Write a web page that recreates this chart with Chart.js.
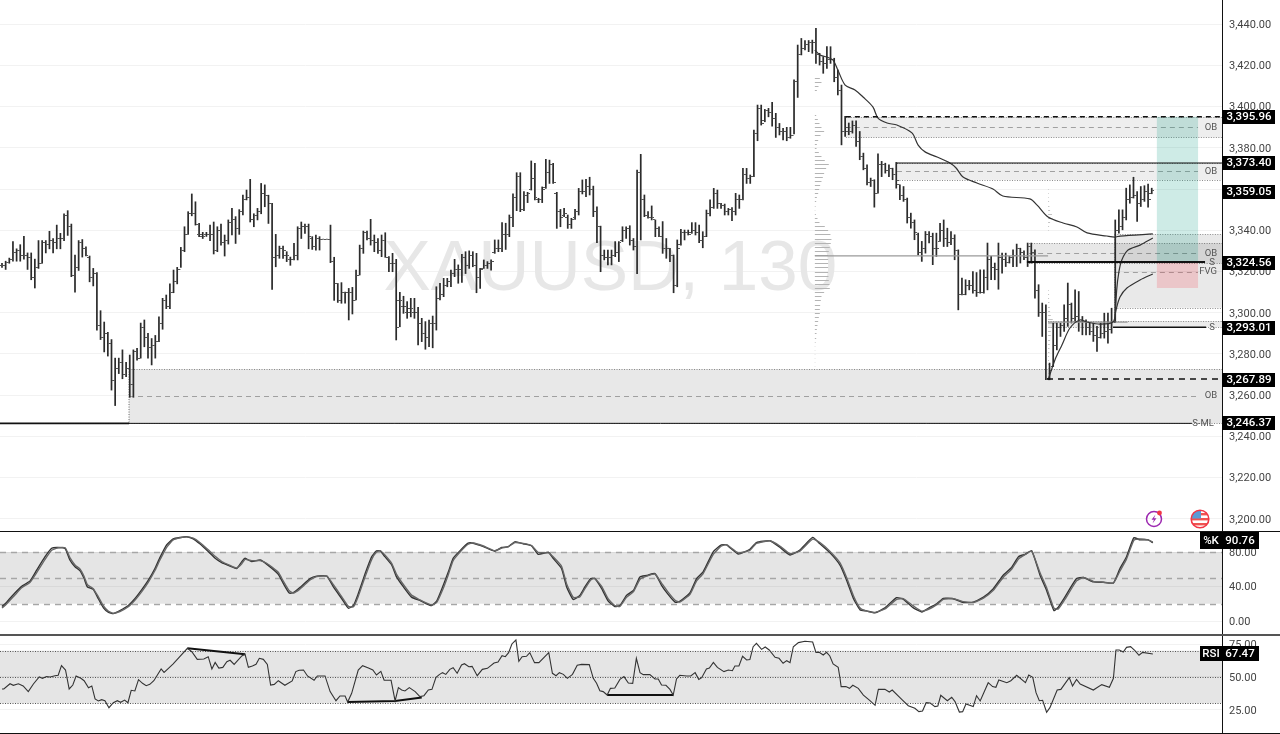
<!DOCTYPE html>
<html><head><meta charset="utf-8">
<script src="https://cdn.jsdelivr.net/npm/chart.js@4"></script>
<style>
html,body{margin:0;padding:0;background:#fff;width:1280px;height:734px;overflow:hidden}
canvas{position:absolute;left:0}
.sep{position:absolute;left:0;width:1280px}
</style></head><body>
<canvas id="price" width="1280" height="531" style="top:0"></canvas>
<canvas id="stoch" width="1280" height="102" style="top:532px"></canvas>
<canvas id="rsi" width="1280" height="97" style="top:636px"></canvas>
<div class="sep" style="top:531px;height:1px;background:#111"></div>
<div class="sep" style="top:634px;height:2px;background:#555"></div>
<div class="sep" style="top:733px;height:1px;background:#111"></div>
<script>
const highs=[3324,3325,3326.5,3334.5,3331,3333,3337,3329,3329,3326,3335,3335,3335,3339.5,3336,3342.5,3338.5,3348,3349.5,3343,3328,3335,3335.5,3332,3327.5,3321.5,3319.5,3301,3295.5,3290.5,3287,3278,3278,3282,3276,3279.5,3282,3282.7,3295,3296.5,3290,3287.5,3289,3298,3307,3308.6,3314,3320.7,3322,3331.7,3341.7,3349,3357.6,3353.8,3343.3,3339,3339,3342.5,3344,3341.7,3343,3337.7,3345,3350.6,3346.6,3350,3357,3359.5,3364.7,3348,3350.6,3362.7,3362,3357,3353,3338,3332.3,3332.3,3329.6,3327,3333.6,3341.7,3344,3343,3343,3336.9,3337.7,3336.9,3335.7,3335.7,3342.5,3326.9,3314.2,3314.6,3310,3311.8,3312.3,3320.7,3332.8,3339.6,3339.6,3345.3,3337.7,3336,3337.7,3338.8,3327.2,3328.8,3325.9,3309.9,3308,3305.4,3307,3307,3302.6,
3297.3,3295.7,3296.5,3298.4,3312.6,3314.3,3316.7,3316.7,3320.7,3325.9,3323.2,3328.3,3329.6,3330,3329.6,3328.8,3321.5,3325.6,3324.8,3325.6,3335.3,3335.3,3343.7,3343.4,3347.4,3357.6,3367.9,3367.9,3358.7,3358.4,3373.6,3372.4,3355.5,3361,3374.4,3374,3372.4,3358.4,3350.1,3350.6,3347.4,3345.8,3350.1,3360.3,3364.4,3364.7,3365.7,3361.4,3351.4,3342,3330.4,3330.4,3330.4,3334.5,3334.5,3341.7,3341.7,3342.2,3336,3369.2,3376.8,3357.1,3349,3351.8,3345,3341.7,3344.2,3336,3331.2,3328,3335.3,3340.4,3340.1,3340.1,3343.7,3343.7,3342.5,3339.3,3349.8,3354.7,3360.3,3359.5,3353,3352.7,3350.6,3351,3357.9,3357.1,3370,3370,3366.8,3388.6,3400.7,3400.7,3398.6,3399.1,3402,3396.7,3391.8,3389.4,3389.9,3389.9,3412.9,3429.8,3433,3432,3432,3432.2,3437.9,3425.8,3424.2,3429,3429,3423.4,3417.7,
3410.4,3395.2,3392,3393,3393,3387.9,3377.4,3371.7,3365.3,3364.5,3377,3373.4,3372.5,3371.7,3370.1,3372.9,3362,3361.2,3355.6,3348.3,3345,3338.6,3334.6,3339.4,3339.4,3338.6,3338.6,3343.4,3345,3341,3339.4,3337.8,3330.5,3316.8,3316,3315.7,3320,3319.5,3320.8,3320.8,3333.8,3327.3,3324.1,3333.8,3328.9,3328.9,3327.3,3330.5,3333.3,3331.3,3330,3333.8,3333.8,3330.5,3313.6,3304.7,3303.9,3275.6,3295,3295,3295,3303.9,3314.4,3304.7,3311.1,3310.3,3298.2,3296.6,3295,3295,3293.4,3295,3299.8,3299.8,3302.2,3345,3349.9,3349.9,3360.4,3362,3365.7,3358.8,3361.2,3361.6,3362.4,3360.4];
const lows=[3322,3321,3324,3325,3325,3325,3326,3321,3316,3312,3321.5,3324,3329,3331,3329,3331,3331,3335,3337.5,3317.5,3310,3320.5,3327,3327.5,3315,3313,3291.5,3287,3281,3279,3262.5,3255,3270.5,3268,3269,3259,3259,3277,3278,3283.5,3278,3274.7,3278,3286,3292,3302,3302,3309.7,3314,3322,3329.6,3338,3347,3342.5,3336.9,3336,3337,3335,3328.5,3329.6,3332.8,3327.5,3333.3,3337.7,3333.6,3338,3347.4,3354.7,3344,3341.7,3345,3348,3351.4,3343.3,3311.3,3322.3,3326.4,3326.4,3324.8,3323,3325.6,3325.6,3336,3338.5,3331,3330.7,3330.4,3330.4,3335.7,3335.7,3324.3,3306,3305,3304.6,3304.6,3296.5,3299.4,3306.2,3318.3,3328.8,3335.3,3332.8,3329.6,3328.8,3327.2,3326.9,3319.9,3319.9,3286.8,3293.2,3299.7,3297.3,3298,3297.3,3284.4,
3286,3282.3,3283.5,3283,3291.6,3306.2,3307.8,3312.6,3312.6,3317.5,3314.3,3314.7,3319,3321.5,3322.3,3309.7,3311.8,3321.5,3321.5,3320.7,3328.8,3329.6,3329.6,3330.7,3336.9,3341.7,3349.5,3349,3349.5,3353.4,3359.5,3354.7,3353.4,3353.4,3360.3,3362.7,3362.7,3340.9,3341.7,3346.6,3340.9,3340.9,3345.3,3347.4,3357.6,3356.3,3357.1,3346.6,3334,3319.9,3325.6,3323.2,3323.2,3327.2,3324.8,3334.5,3336,3332.8,3330.4,3319,3335.3,3346.6,3345.8,3345,3336.9,3336.9,3328.8,3326.4,3324.8,3309.7,3312.6,3332.8,3335.3,3337.7,3338.5,3337.7,3334,3331.5,3336.9,3346.9,3350.6,3350.6,3350.6,3347.4,3347.4,3344.6,3347.4,3350.6,3354.7,3362.7,3362.7,3366,3383.4,3391,3392.6,3395,3390.5,3385,3386.2,3383.8,3383.4,3384.6,3386.7,3404.4,3425,3427.4,3426.6,3425.8,3420.9,3420.1,3416.1,3418.5,3420.9,3412,3405.6,
3381.4,3385.5,3386.3,3387.1,3380.6,3374.2,3369.3,3362,3361.2,3351.2,3358,3366,3367.7,3366,3364.5,3360.4,3354.8,3354,3343.5,3341,3335.4,3328.1,3324.9,3328.9,3333.8,3323.3,3327.3,3334.6,3332.1,3332.1,3333,3325.7,3301.4,3308.7,3308.7,3311.1,3309.5,3307.9,3309.5,3309.5,3311.1,3316,3316,3311.4,3319.2,3322.4,3324.1,3322.4,3322.4,3324.1,3325.7,3322.4,3324.1,3307.1,3298.2,3288.5,3267.5,3267.5,3273.9,3282,3288.5,3291,3293.4,3295,3295.8,3291,3289.3,3289.3,3289.3,3286.1,3281.2,3287.7,3287.7,3285.3,3290.1,3295.8,3338.6,3340.2,3345,3353.1,3355.6,3344.3,3351.5,3354,3351.2,3357.7];
const closes=[3323,3324.5,3326,3329,3330,3328,3328,3327,3317,3322,3324,3334,3333,3335,3334,3336,3336,3347,3342,3318,3322,3334,3331,3328,3317,3319,3294,3288,3290,3285,3267,3273,3276,3270,3273,3265,3281,3278,3293,3288,3283,3284,3286,3295,3306,3303,3310,3315,3321,3330,3338,3348,3348,3343,3338,3337,3338,3338,3330,3340,3334,3335,3344,3345,3341,3349,3355,3356,3345,3347,3349,3358,3357,3353,3327,3328,3331,3330,3328,3326,3328,3341,3342,3342,3337,3332,3336,3335.7,3335.7,3335.7,3325,3314,3306,3310,3310,3310,3306,3318,3331,3339,3336,3335,3334,3330,3335,3327,3324,3324,3293,3306,3303,3300,3302,3300,3295,
3290,3288,3295,3295,3307,3309,3313,3315,3319,3321,3321,3327,3323,3328,3323,3317,3321,3323,3324,3325,3331,3331,3338,3338,3346,3356,3366,3350,3357,3358,3365,3356,3355,3360,3368,3372,3363,3349,3346,3348,3343,3345,3349,3359,3359,3361,3360,3349,3342,3328,3327,3327,3328,3329,3334,3340,3341,3335,3332,3368,3355,3347,3346,3346,3341,3337,3331,3331,3328,3313,3331,3339,3339,3338,3340,3339,3335,3337,3348,3351,3358,3353,3352,3349,3350,3349,3355,3355,3367,3365,3366,3387,3399,3392,3398,3397,3394,3390,3388,3388,3385,3386,3412,3425,3428,3430,3431,3431,3425,3422,3421,3423,3423,3414,3408,
3388,3390,3388,3391,3383,3376,3370,3363,3364,3358,3372,3372,3369,3370,3367,3364,3357,3355,3346,3344,3339,3329,3331,3338,3337,3331,3331,3340,3336,3334,3336,3330,3309,3309,3313,3313,3311,3310,3310,3317,3326,3322,3321,3327,3326,3324.5,3327,3328,3331,3329,3327,3332,3329,3311,3300,3300,3268,3272,3284,3293,3294,3297,3304,3297,3298,3296,3296,3293,3291,3289,3288,3290,3291,3292,3296,3340,3342,3346,3355,3356,3357,3353,3355,3359,3355,3359.05];
const opens=[3323,3323,3324.5,3326,3329,3330,3328,3328,3327,3317,3322,3324,3334,3333,3335,3334,3336,3336,3347,3342,3318,3322,3334,3331,3327,3317,3319,3294,3288,3290,3285,3267,3273,3276,3270,3273,3265,3281,3278,3293,3288,3283,3284,3286,3295,3306,3303,3310,3315,3321,3330,3338,3348,3348,3338,3337,3338,3338,3338,3330,3340,3334,3335,3344,3345,3341,3349,3355,3356,3345,3347,3349,3358,3357,3353,3327,3328,3331,3328,3326,3326,3328,3341,3342,3342,3336,3332,3336,3335.7,3335.7,3335.7,3325,3314,3306,3310,3310,3310,3306,3318,3331,3339,3336,3335,3334,3330,3335,3327,3324,3324,3306,3303,3300,3302,3300,3300,
3295,3290,3288,3295,3295,3307,3309,3313,3315,3319,3321,3321,3327,3323,3328,3323,3317,3321.5,3323,3324,3329,3331,3331,3338,3338,3346,3356,3366,3350,3357,3360,3365,3355,3355,3360.5,3368,3372,3358,3349,3347,3346,3343,3346,3349,3359,3359,3361,3360,3349,3342,3328,3327,3327,3328,3329,3335,3340,3341,3335,3332,3368,3355,3347,3346,3345,3341,3337,3331,3331,3328,3313,3333,3339,3339,3339,3340,3339,3335,3337,3348,3351,3358,3353,3352,3349,3350,3349,3355,3355,3367,3365,3366,3387,3399,3393,3398,3397,3394,3390,3388,3388,3385,3386,3412,3425,3428,3430,3431,3431,3425,3422,3421,3423,3423,3414,
3408,3388,3388,3388,3391,3383,3376,3370,3363,3364,3358,3372,3372,3369,3370,3367,3362,3357,3355,3346,3344,3338,3329,3331,3338,3337,3331,3334.6,3340,3336,3334,3336,3330,3309,3309,3313,3313,3311,3310,3310,3317,3326,3322,3321,3327,3326,3324.5,3327,3328,3331,3329,3327,3332,3329,3311,3300,3300,3268,3274,3284,3293,3294,3297,3304,3297,3298,3296,3296,3293,3291,3289,3288,3290,3291,3292,3296,3340,3342,3346,3355,3356,3357,3353,3355,3359,3358];

const priceTicks=[3200,3220,3240,3260,3280,3300,3320,3340,3360,3380,3400,3420,3440];
const stochTicks=[0,40,80];
const rsiTicks=[25,50,75];

const vwapAIdx=[222.7,224.1,226,227.7,229,231,233.7,235.9,238.6,240,242.5,245.2,249.3,251,252.9,256.2,259.7,261.4,263.3,267.1,271.5,274.2,281.6,283.6,286.6,290.7,294.5,297.3,302.7,304.9,306.3,315.3];
const vwapAVal=[3427.4,3425,3424,3422.5,3417.7,3410.4,3408,3404.6,3399.8,3394.4,3392,3391,3387.2,3381.3,3378,3375.5,3372.6,3370.2,3365.8,3362.9,3360,3356.6,3355.2,3352.2,3346.4,3343.5,3341.6,3338.7,3337.2,3336.7,3337.2,3338.2];
const vwapBIdx=[286.6,287.7,288.8,290.4,292.6,295.3,297.3,300.8,304.4,305.2,306.3,308.2,311.8,315.3];
const vwapBVal=[3267.4,3273.2,3278.5,3284.4,3292.6,3296.5,3295.5,3294.5,3295.5,3301.3,3307.6,3312,3315.9,3318.8];
const vwapCIdx=[304.9,305.4,306,306.8,308.5,311.8,315.3];
const vwapCVal=[3295,3311,3319.8,3325.6,3330.4,3332.8,3336.2];

const vp1Prices=[3414,3412,3410,3408,3396,3394,3392,3390,3388,3386,3384,3382,3380,3378,3376,3374,3372,3370,3368,3366,3364,3362,3360,3358,3356,3354,3352,3350,3348,3346,3344,3342,3340,3338,3336,3334,3332,3330,3328,3326,3324,3322,3320,3318,3316,3314,3312,3310,3308,3306,3304,3302,3300,3298,3296,3294,3292,3290,3288,3286,3284,3282,3280,3278,3276,3274];
const vp1Sizes=[15,20,11,6,4,9,14,20,28,17,10,6,5,12,20,30,42,34,28,24,20,16,13,10,6,4,2,1,3,8,14,30,40,47,50,48,45,42,40,40,40,40,40,41,42,44,45,28,20,18,16,15,15,12,10,8,6,5,4,2,1,1,1,1,1,1];
const vp2Prices=[3360,3358,3356,3354,3352,3350,3348,3346,3344,3342,3340];
const vp2Sizes=[2,2,2,3,4,6,12,14,6,3,2];
const vp3Prices=[3311,3309,3307,3305,3303,3301,3299,3297,3295,3293,3291,3289,3287,3285,3283,3281,3279,3277,3275,3273,3271,3269];
const vp3Sizes=[2,3,3,4,5,6,8,14,25,10,8,8,6,5,4,4,3,3,3,2,2,2];

const stochIdx=[0,1.3,3.6,5.4,7.7,9.5,11.8,13.6,15.4,17.3,18.6,20,21.4,22.5,23.4,25,26.4,27.8,29.1,30.5,32.3,34.6,36.4,38.3,40.1,41.9,43.3,45.1,46.9,48.8,50.6,52.4,54.2,56.5,58.4,60.2,62.5,64.3,65.7,66.6,68.4,70.7,72.5,75.7,77.1,78.7,79.8,81.6,84.4,86.2,89,90.8,93.1,94.9,96.3,97.6,99.5,101.3,102.6,103.6,104.9,106.8,108.1,110,112.2,114.5,115.9,117.7,119.1,120.9,122.3,123.6,125.5,127.7,129.1,131.9,135,136.9,138.7,140.5,142.8,145.1,146.9,149.7,151,153.3,154.7,156.5,158.3,159.7,161.3,162.4,164.3,166.1,167.9,169.3,171.1,173,174.8,176.6,178.9,180.7,182.5,184.4,185.7,188.5,190.3,192.1,194.9,197.1,198.5,201.7,204.9,206.7,210.4,213.1,215.9,218.6,222.1,224.1,226.8,229.6,231.4,233.3,235.1,236.9,239.2,241.9,245.1,246.9,249.7,252,254.3,256.1,257.9,260.6,263.4,266.1,268.9,271.6,274.3,276.6,278.5,280.3,282.1,284.4,286.2,288.2,289.4,291.2,294.4,296.3,299,301.7,304.5,306.3,308.1,310.1,311.8,314,315.3];
const stochK=[16.8,21.9,32.8,40.2,46.5,59,74.6,84.4,85.2,84,70.7,62.9,58.2,49.2,39.5,36.7,25.8,15.2,10.2,8.6,12.1,18,25.8,36.3,47.3,60.9,73.8,88.3,95.3,96.9,97.7,95.3,89.5,80.5,72.7,67.6,63.7,60.9,68.8,72.7,68.8,70.7,66,54.3,43.4,32.4,32.8,38.7,49.2,52,52,39.5,25.8,14.8,18,31.6,55,74.6,81.3,81.3,74.6,64.8,51.2,39.5,27.7,23.8,20.7,18,23,41.4,57,72.7,81.6,90.2,90.2,86.3,80.9,85.2,86.3,91.8,89.5,87.1,77.3,79.7,72.7,60.9,39.5,25,29.7,39.5,49.2,49.2,37.5,23,16.8,18,29.7,35.5,51.2,52.7,55,41.4,30.9,21.9,22.7,32.8,49.2,57,80.5,88.3,88.3,77.7,83.2,91,93,85.5,76.6,82.4,96.9,89.5,79.3,64.8,47.3,25.8,12.9,11.7,9.4,15.2,27,25.4,15.2,10.5,16,19.9,26.2,25.8,21.5,21.9,27.7,37.5,53.1,62.1,74.6,77.3,81.6,53.1,35.5,12.1,16,27.7,49.2,50.4,45.3,44.9,44.1,60.9,74.6,96.5,94.1,94.1,90.76];
const stochD=[15,20,30.5,38.5,45,56,71.5,82,85,85,73.5,65,60,51.5,42,37.5,28,17.5,11.5,9,11,16.5,24,34,45,58.5,71,85.5,94,96.5,97.5,96,91,82.5,75,69,64.5,61.5,66.5,71.5,70,70,67,56.5,46,35,32.5,37,47.5,51.5,52,42,28,17,16.5,28.5,51.5,71.5,80,81.5,76.5,66.5,54,42,30,24.5,21.5,18.5,21.5,38,54,70,80,89,90.5,87,81.5,84.5,86,91,90,87.5,79.5,79,74.5,63.5,43,27.5,28,37.5,47.5,49.5,40,25.5,18,17,27.5,34,48.5,52,54.5,44,33.5,24,22,31,46.5,55,77.5,87,88.5,79,82,90,93,87,78,81,95,91,81,67.5,50.5,29,15,11.5,10,14,25,26,17.5,11.5,14.5,19,25,26,22.5,21.5,26.5,35.5,50.5,60,72,77,81,56,38.5,15,14,25,46.5,50.5,46,45,44,58,72,93.5,95,94,91.6];

const rsiIdx=[0,0.5,2.2,3.1,4.5,5.8,7.2,8.6,10.2,11.1,12.2,13.2,14.5,15.4,16.3,17.4,18.4,19.4,20.3,21.6,22.5,23.7,24.6,25.5,26.4,27.3,28.2,29.3,30.5,31.6,32.5,33.6,34.5,35.4,36.4,37.4,38.5,39.5,40.5,41.6,43.6,44.4,45.6,46.9,50.8,52,53.5,55.3,56.5,57.5,58.4,59.4,60.5,61.6,62.5,63.6,65.7,66.6,67.5,68.6,69.6,70.5,71.6,72.7,73.6,74.6,75.7,77.5,79.5,80.5,81.4,82.6,83.7,85.5,86.4,88.5,89.9,91.5,92.6,94,94.7,95.8,97.6,98.8,100.4,101.6,102.6,103.8,104.7,106.6,107.7,108.6,109.5,110.4,111.6,113.2,114.5,115.6,116.8,117.8,118.9,119.8,120.7,121.6,122.7,123.6,124.7,125.9,126.7,127.9,128.8,130.2,131.6,133,134.8,135.9,137,137.9,138.8,139.7,140.8,141.6,142.5,143.7,144.6,145.9,147.1,149.8,150.8,151.8,152.7,153.8,154.9,156.3,157.6,158.8,160.9,162,162.9,163.8,164.7,165.8,166.7,167.9,169.3,170.4,171.6,172.8,173.8,174.8,175.7,177.5,178.9,179.8,180.7,181.9,183,183.9,184.8,185.7,187.6,188.7,189.9,190.9,191.7,193,193.8,194.9,196,197.8,199,200.1,200.8,201.9,202.9,204,204.9,205.8,206.7,208.1,209.1,210.2,211.8,212.9,214,215,215.9,216.8,218.2,220,222.1,223,223.9,225,225.9,226.8,227.7,229.1,229.6,229.9,231.2,232.2,233.1,234.6,236,237.8,239.2,240.1,241.9,243.1,243.9,246.5,248.3,250.1,251.2,252.2,253.2,254.3,255.6,256.4,257.2,259,260.2,261.1,262.3,263.2,264.1,266.1,267,268,270.2,271.4,272.3,273.1,275.3,276.4,278,280.4,281.3,282.4,283.3,284.2,285.1,286.2,287.1,289.1,290.1,292.4,293.3,294.4,295.4,299,301.3,303.4,304.5,305.2,306.1,307.2,308.1,309.2,310.4,311.5,312.5,315.3];
const rsiVal=[40.9,40.9,44.9,43.7,44.9,43.2,38.9,44.7,50,49,50.3,50,51,51.3,58.6,55.3,40.9,43.9,50.8,49,47.2,41.9,43.2,33.3,31.8,32.8,32,26.7,30.5,32,30.8,32.5,30.5,39.9,39.4,48,45.2,43.4,44.4,47.2,56.1,53.5,56.6,59.9,71.8,69.2,63.4,63.7,65.4,56.1,61.1,56.8,57.3,61.6,62.7,59.6,66,67.2,57.3,58.4,59.6,64.2,63.4,59.6,43.9,44.4,47.2,43.7,47,54.1,55.1,55.3,50.8,47.5,50.8,50.8,38.9,32,35.6,35.6,31,37.6,55.3,58.6,56.8,55.3,51.5,54.3,47.5,47.5,31.8,41.9,40.1,39.4,41.9,38.9,35.1,35.8,40.1,40.6,49.7,51.8,53.3,52,55.8,57.1,52.8,59.1,60.1,57.8,58.1,51,55.8,56.6,60.6,61.4,66.2,65.4,68.5,75.1,78.1,61.9,65.4,65.7,68.5,60.9,60.9,68.5,52.8,51,53.3,52,49,52,58.9,59.6,59.4,49,45.2,39.6,38.9,36.3,41.4,41.6,48.2,50.3,45.4,45.2,64.2,53.3,51.8,51.8,48.5,48.5,43.9,43.7,40.6,36.3,48.5,51.3,50.8,50.8,53.3,48.2,49.5,56.1,56.8,61.1,57.3,54.1,55.3,54.8,58.4,58.4,65.7,62.9,63.2,73,75.6,71,72.8,70.5,64.9,64.2,60.4,62.4,60.9,73,76.1,77.1,76.6,68.7,68.7,66.7,68.7,66,59.9,57.3,49,42.7,42.7,41.4,43.7,41.4,36.3,32,28.5,40.6,40.6,38.6,40.1,33,28.2,26.2,23.7,24.2,30.5,30.3,27.5,28,36.1,32,34.6,31.3,23.4,23.7,29.5,27.5,35.8,31.8,45.7,42.7,42.2,47.7,45.7,47.2,51.3,45.7,51.5,49.7,38.1,32,32.3,23.2,26.7,40.1,40.6,49.5,43.2,48.2,44.7,40.1,44.2,42.2,49,70.5,70.5,69,72.5,73,70,66.5,68.7,67.47];
const divIdxA=[50.8,66.6], divValA=[71.8,67.2];
const divIdxB=[94.7,107.7,115], divValB=[31,31.8,34.5];
const divIdxC=[165.8,183.9], divValC=[36.3,36.3];

const zoneStart=[34.8,231.2,245.2,281.4,304.9,286.6];
const zoneTop=[3272.7,3395,3372.6,3333.7,3338,3296];
const zoneBottom=[3246.37,3385,3364.4,3324,3302.4,3293];
const zoneMid=[3259.6,3390.2,3368.7,3328.8,3320,3294.5];
const posStart=316.4, posEnd=327.7, posTarget=3395, posEntry=3324.56, posStop=3312;

const levelPrice=[3246.37,3246.37,3395,3372.6,3324.56,3293.01,3267.89];
const levelFrom=[-0.6,34.8,231.2,245.2,280.8,304.4,286.3];
const levelTo=[34.8,326,335,335,329.6,329.9,335];
const levelWidth=[1.6,1,1.4,1.2,2,1.5,1.4];
const levelDash=[[],[],[5,4],[],[],[],[6,5]];
const pocPrice=[3327.6,3295.5], pocFrom=[222.7,286.6], pocTo=[286.6,308.4];

const badgeText=['3,395.96','3,373.40','3,359.05','3,324.56','3,293.01','3,267.89','3,246.37'];
const badgeValue=[3394.9,3372.6,3358.5,3324.2,3292.7,3267.5,3246.37];
const tagText=['OB','OB','OB','S','FVG','S','OB','S-ML'];
const tagValue=[3390.2,3368.7,3329,3324.56,3320,3293,3260,3246.37];

const FONT='Roboto, "Liberation Sans", sans-serif';
const BAR='#2b2b2b', TICK='#555';
function tickImage(left){const c=document.createElement('canvas');c.width=5;c.height=1;const g=c.getContext('2d');g.fillStyle=TICK;g.fillRect(left?0:3,0,2,1);return c;}
function pts(xs,ys){return xs.map((x,i)=>({x,y:ys[i]}));}
function lineDs(xs,ys,color,width,extra){return Object.assign({type:'line',data:pts(xs,ys),borderColor:color,borderWidth:width,pointRadius:0,fill:false,tension:0},extra||{});}
function axisX(){return {type:'linear',min:-0.548,max:334.25,display:false,offset:false,grid:{display:false}};}
function axisY(min,max,ticks){return {type:'linear',position:'right',min,max,
  afterBuildTicks(s){s.ticks=ticks.map(v=>({value:v}));},
  afterFit(s){s.width=58;s.paddingTop=0;s.paddingBottom=0;},
  grid:{color:'#f2f2f2',lineWidth:1,drawTicks:false},
  border:{color:'#111',width:1},
  ticks:{padding:7,color:'#444',labelOffset:1,font:{family:FONT,size:11},autoSkip:false,maxRotation:0,
    callback:v=>v.toLocaleString('en-US',{minimumFractionDigits:2,maximumFractionDigits:2})}};}
const base={responsive:false,animation:false,events:[],layout:{padding:0,autoPadding:false},plugins:{legend:{display:false},tooltip:{enabled:false}}};

const priceLayers={id:'priceLayers',
 beforeDatasetsDraw(ch){
  const c=ch.ctx,X=ch.scales.x,Y=ch.scales.y,R=ch.chartArea.right;
  c.save();
  c.fillStyle='#e7e7e7';c.font='71px "Liberation Sans",Arial,sans-serif';c.textBaseline='alphabetic';c.textAlign='left';
  c.fillText('XAUUSD, 130',X.getPixelForValue(104.5),290);
  const fills=['#e8e8e8','#eeeeee','#eeeeee','rgba(0,0,0,.09)','rgba(0,0,0,.085)','#ececec'];
  zoneStart.forEach((s,i)=>{
   const x=X.getPixelForValue(s),t=Y.getPixelForValue(zoneTop[i]),b=Y.getPixelForValue(zoneBottom[i]),m=Y.getPixelForValue(zoneMid[i]);
   c.fillStyle=fills[i];c.fillRect(x,t,R-x,b-t);
   c.strokeStyle='#8a8a8a';c.lineWidth=1;c.setLineDash([1,1.5]);
   c.beginPath();c.moveTo(x,Math.round(t)+.5);c.lineTo(R,Math.round(t)+.5);c.moveTo(x,Math.round(b)+.5);c.lineTo(R,Math.round(b)+.5);c.stroke();
   if(i===0||i===4){c.strokeStyle='#666';c.beginPath();c.moveTo(x,t);c.lineTo(x,i===4?Y.getPixelForValue(3293):b);c.stroke();}
   c.setLineDash([5,4]);c.strokeStyle='#a0a0a0';
   if(i!==5){c.beginPath();c.moveTo(x,Math.round(m)+.5);c.lineTo(1198,Math.round(m)+.5);c.stroke();}
   c.setLineDash([]);
  });
  const drawVp=(start,ps,ws,col)=>{c.fillStyle=col;const x0=X.getPixelForValue(start);
   ps.forEach((p,i)=>{c.fillRect(x0,Math.round(Y.getPixelForValue(p)),X.getPixelForValue(start+ws[i]/11)-x0,1);});};
  drawVp(222.7,vp1Prices,vp1Sizes,'#b4b4b4');
  drawVp(286.6,vp2Prices,vp2Sizes,'#c4c4c4');
  drawVp(286.6,vp3Prices,vp3Sizes,'#c0c0c0');
  const px=X.getPixelForValue(posStart),pr=X.getPixelForValue(posEnd),pt=Y.getPixelForValue(posTarget),pe=Y.getPixelForValue(posEntry),ps=Y.getPixelForValue(posStop);
  c.fillStyle='rgba(8,153,129,.2)';c.fillRect(px,pt,pr-px,pe-pt);
  c.fillStyle='rgba(242,54,69,.2)';c.fillRect(px,pe,pr-px,ps-pe);
  c.restore();
 },
 afterDraw(ch){
  const c=ch.ctx,Y=ch.scales.y;
  c.save();
  c.font='9.5px '+FONT;c.fillStyle='#555';c.textBaseline='middle';c.textAlign='center';
  const tagX=[1211,1211,1211,1212,1208,1212,1211,1203];
  tagText.forEach((t,i)=>c.fillText(t,tagX[i],Y.getPixelForValue(tagValue[i])+.5));
  c.textAlign='center';
  badgeText.forEach((t,i)=>{const y=Y.getPixelForValue(badgeValue[i]);
    c.fillStyle='#000';c.fillRect(1222,Math.round(y)-7,53,14);
    c.fillStyle='#fff';c.font='500 11.5px '+FONT;c.fillText(t,1249,Math.round(y)+.5);});
  c.lineWidth=1.5;c.strokeStyle='#9c27b0';c.beginPath();c.arc(1154,519,7.5,0,Math.PI*2);c.stroke();
  c.fillStyle='#9c27b0';c.beginPath();c.moveTo(1155.5,514.5);c.lineTo(1151.5,519.8);c.lineTo(1154,519.8);c.lineTo(1152.5,523.5);c.lineTo(1156.5,518.2);c.lineTo(1154,518.2);c.closePath();c.fill();
  c.fillStyle='#f23645';c.beginPath();c.arc(1159.5,513,2.4,0,Math.PI*2);c.fill();
  c.save();c.beginPath();c.arc(1200,519,8.5,0,Math.PI*2);c.clip();
  c.fillStyle='#fff';c.fillRect(1191,510,18,18);c.fillStyle='#ef5350';c.fillRect(1191,513,18,2.4);c.fillRect(1191,518,18,2.4);c.fillRect(1191,523,18,2.4);
  c.fillStyle='#5b9bd5';c.fillRect(1191,510,10,8.5);c.restore();
  c.strokeStyle='#f23645';c.lineWidth=1.6;c.beginPath();c.arc(1200,519,8.8,0,Math.PI*2);c.stroke();
  c.restore();
 }};

function paneLayers(top,mid,bottom,dash,lineCol,lineW,tagName,tagVal,boxTop,boxH){return {id:'pane'+tagName,
 beforeDatasetsDraw(ch){
  const c=ch.ctx,Y=ch.scales.y,R=ch.chartArea.right;
  const t=Y.getPixelForValue(top),b=Y.getPixelForValue(bottom);
  c.save();c.fillStyle='rgba(0,0,0,.1)';c.fillRect(0,t,R,b-t);
  c.strokeStyle=lineCol;c.lineWidth=lineW;c.setLineDash(dash);
  [top,mid,bottom].forEach(v=>{const y=Math.round(Y.getPixelForValue(v))+.5;c.beginPath();c.moveTo(0,y);c.lineTo(R,y);c.stroke();});
  c.restore();},
 afterDraw(ch){
  const c=ch.ctx;c.save();c.fillStyle='#000';c.fillRect(1200,boxTop,59,boxH);
  c.fillStyle='#fff';c.textBaseline='middle';c.textAlign='center';c.font='500 11.5px '+FONT;
  c.fillText(tagName,1211,boxTop+boxH/2+.5);c.fillText(tagVal,1240,boxTop+boxH/2+.5);c.restore();}
};}

new Chart(document.getElementById('price'),{type:'bar',
 data:{datasets:[
  {type:'bar',data:highs.map((h,i)=>({x:i,y:[lows[i],h]})),backgroundColor:BAR,barThickness:1.05,grouped:false,order:3},
  {type:'scatter',data:pts(highs.map((_,i)=>i),opens),pointStyle:tickImage(true),pointRadius:3,order:2},
  {type:'scatter',data:pts(highs.map((_,i)=>i),closes),pointStyle:tickImage(false),pointRadius:3,order:2},
  lineDs(vwapAIdx,vwapAVal,'#333',1.2,{tension:.3,order:1}),
  lineDs(vwapBIdx,vwapBVal,'#333',1.2,{tension:.3,order:1}),
  lineDs(vwapCIdx,vwapCVal,'#333',1.2,{tension:.3,order:1}),
  ...pocPrice.map((p,i)=>lineDs([pocFrom[i],pocTo[i]],[p,p],'#9a9a9a',1.2,{order:1})),
  ...levelPrice.map((p,i)=>lineDs([levelFrom[i],levelTo[i]],[p,p],'#111',levelWidth[i],{borderDash:levelDash[i],order:0}))
 ]},
 options:Object.assign({},base,{scales:{x:axisX(),y:axisY(3194.18,3451.64,priceTicks)}}),
 plugins:[priceLayers]});

new Chart(document.getElementById('stoch'),{type:'line',
 data:{datasets:[lineDs(stochIdx,stochD,'#666',1.4,{tension:.15}),lineDs(stochIdx,stochK,'#333',1.4,{tension:.15})]},
 options:Object.assign({},base,{scales:{x:axisX(),y:axisY(-15.07,103.2,stochTicks)}}),
 plugins:[paneLayers(80,50,20,[6,5],'#a6a6a6',1.5,'%K','90.76',0,17)]});

new Chart(document.getElementById('rsi'),{type:'line',
 data:{datasets:[lineDs(rsiIdx,rsiVal,'#333',1.1),
  lineDs(divIdxA,divValA,'#111',2),lineDs(divIdxB,divValB,'#111',2),lineDs(divIdxC,divValC,'#111',2)]},
 options:Object.assign({},base,{scales:{x:axisX(),y:axisY(7.48,81.13,rsiTicks)}}),
 plugins:[paneLayers(70,50,30,[1,1.5],'#555',1,'RSI','67.47',10,15)]});
</script>
</body></html>
